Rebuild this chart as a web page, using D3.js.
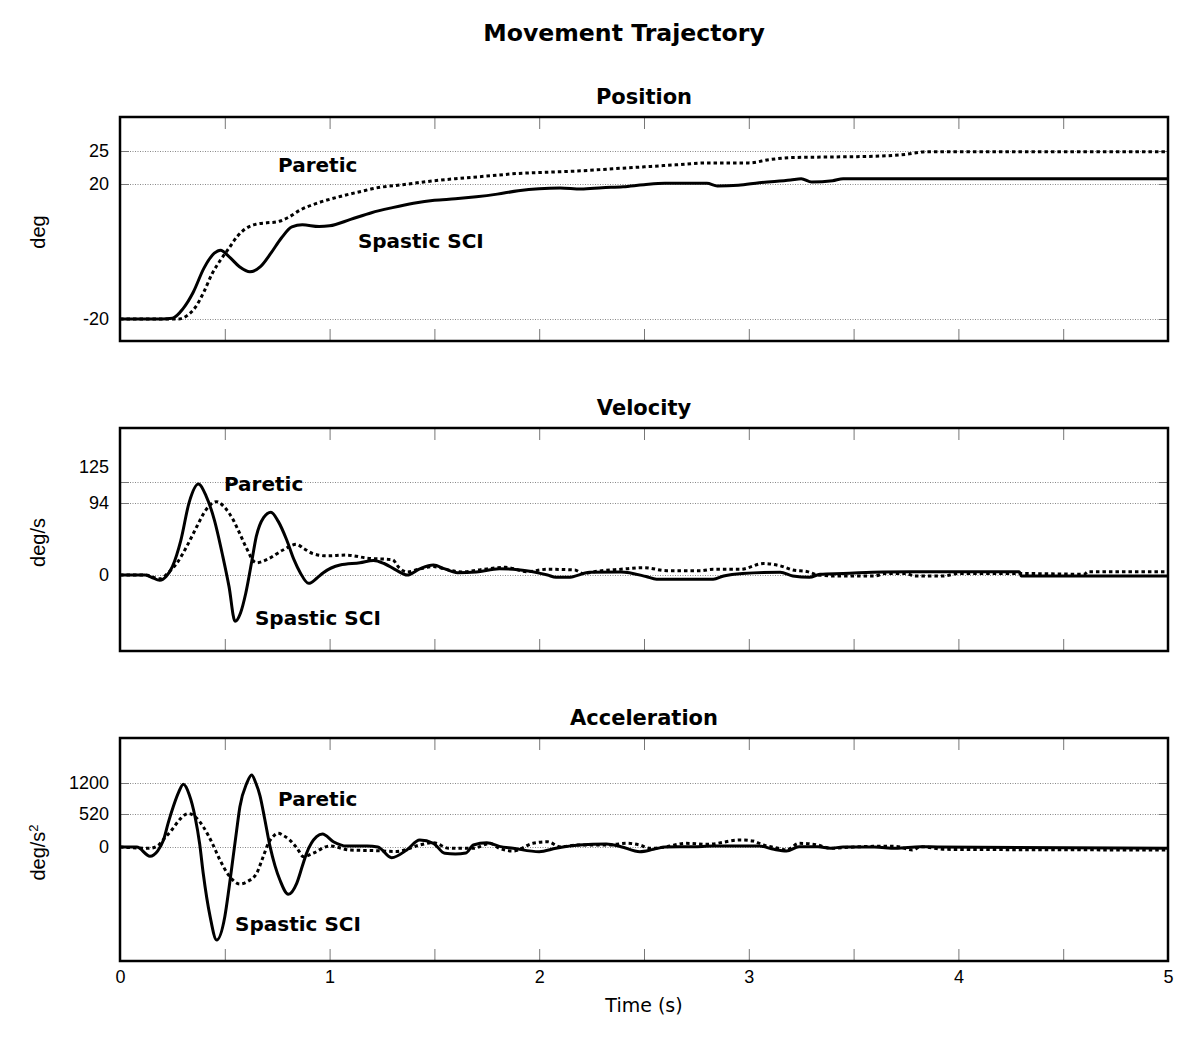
<!DOCTYPE html>
<html lang="en">
<head>
  <meta charset="UTF-8">
  <title>Movement Trajectory</title>
  <script src="https://d3js.org/d3.v7.min.js"></script>
  <style>
    body { margin: 0; background: #fff; }
    .title { font-family: "DejaVu Sans", Verdana, sans-serif; font-weight: bold; }
    .tick-label { font-family: "Liberation Sans", Arial, sans-serif; font-size: 18px; }
    .grid line { stroke: #888; stroke-width: 1; stroke-dasharray: 1,1.5; }
    .minor line { stroke: #777; stroke-width: 1; }
  </style>
</head>
<body>
  <div id="chart"></div>

  <script>
    // time axis
    const timeTicks = [0, 0.5, 1, 1.5, 2, 2.5, 3, 3.5, 4, 4.5, 5];

    // Position (deg)
    const posSpastic = [
      [0, -20], [0.1, -20], [0.2, -20], [0.25, -19.8], [0.3, -17], [0.35, -12], [0.4, -5],
      [0.45, -0.5], [0.48, 0.4], [0.52, -1.5], [0.57, -4.5], [0.62, -6], [0.67, -4.5],
      [0.72, -0.5], [0.77, 4], [0.82, 7.3], [0.87, 7.9], [0.95, 7.4], [1.0, 7.6], [1.1, 9.5],
      [1.2, 11.5], [1.3, 13], [1.4, 14.3], [1.5, 15.2], [1.6, 15.6], [1.7, 16.2], [1.8, 17],
      [1.9, 18], [2.0, 18.6], [2.1, 18.8], [2.2, 18.5], [2.3, 18.9], [2.4, 19.2], [2.5, 19.8],
      [2.6, 20.1], [2.8, 20.1], [2.85, 19.4], [2.95, 19.6], [3.05, 20.2], [3.2, 20.6],
      [3.25, 20.8], [3.3, 20.3], [3.4, 20.5], [3.45, 20.8], [5.0, 20.8]
    ];
    const posParetic = [
      [0, -20], [0.28, -20], [0.32, -19], [0.36, -16.5], [0.4, -12], [0.44, -6.5], [0.48, -2.5],
      [0.52, 1], [0.56, 4.5], [0.6, 6.8], [0.65, 8.1], [0.7, 8.5], [0.75, 8.8], [0.8, 10],
      [0.86, 12.3], [0.95, 14.5], [1.05, 16.3], [1.15, 17.8], [1.22, 18.8], [1.35, 19.8],
      [1.5, 20.5], [1.6, 20.8], [1.75, 21.2], [1.9, 21.6], [2.05, 21.8], [2.2, 22.0],
      [2.35, 22.3], [2.5, 22.6], [2.65, 22.9], [2.8, 23.2], [3.0, 23.2], [3.1, 23.7],
      [3.2, 24.0], [3.4, 24.1], [3.6, 24.2], [3.75, 24.5], [3.85, 24.9], [5.0, 24.9]
    ];
    const posTicks = [-20, 20, 25];

    // Velocity (deg/s)
    const velSpastic = [
      [0, 0], [0.12, 0], [0.15, -3], [0.19, -7], [0.22, -2], [0.25, 11], [0.29, 45], [0.33, 95],
      [0.374, 122], [0.41, 105], [0.45, 72], [0.49, 25], [0.52, -15], [0.549, -61], [0.575, -50],
      [0.6, -24], [0.63, 20], [0.65, 50], [0.685, 75], [0.72, 82], [0.755, 70], [0.795, 46],
      [0.83, 20], [0.86, 3], [0.9, -11], [0.94, -4], [0.97, 3], [1.05, 13], [1.145, 16],
      [1.21, 19], [1.26, 15], [1.32, 6], [1.37, 0], [1.43, 8], [1.495, 13], [1.55, 8],
      [1.61, 3], [1.7, 4], [1.81, 8], [1.9, 7], [2.04, 0], [2.08, -3], [2.14, -3], [2.24, 3.5],
      [2.39, 4], [2.51, -2], [2.56, -5.6], [2.83, -5.6], [2.88, -1.3], [2.97, 2], [3.15, 3.5],
      [3.21, -1.3], [3.29, -3], [3.34, 1], [3.45, 2], [3.64, 4], [3.77, 4.4], [4.29, 4.4],
      [4.3, -1.3], [5.0, -1.3]
    ];
    const velParetic = [
      [0, 0], [0.12, 0], [0.19, -5], [0.23, 3], [0.27, 15], [0.32, 38], [0.366, 63], [0.41, 85],
      [0.46, 96], [0.5, 88], [0.54, 72], [0.57, 55], [0.6, 37], [0.65, 16], [0.7, 20],
      [0.78, 33], [0.84, 40], [0.88, 34], [0.92, 28], [0.985, 25], [1.08, 26], [1.18, 22],
      [1.3, 20], [1.33, 10], [1.37, 4], [1.43, 8], [1.495, 11], [1.56, 7], [1.63, 4],
      [1.72, 7], [1.84, 10], [1.94, 4.4], [2.04, 7.5], [2.17, 6.5], [2.21, 2], [2.28, 5],
      [2.39, 7.5], [2.5, 9.6], [2.61, 5.6], [2.77, 5.6], [2.83, 7.5], [2.96, 7.5], [3.07, 15],
      [3.15, 12], [3.21, 6.6], [3.28, 4.4], [3.33, 0], [3.42, -1.3], [3.6, -1.3], [3.65, 2],
      [3.75, 2], [3.79, -1.3], [3.93, -1.3], [4.0, 2], [4.29, 2], [4.6, 1], [4.62, 4.4],
      [5.0, 4.4]
    ];
    const velTicks = [0, 94, 125];

    // Acceleration (deg/s^2)
    const accSpastic = [
      [0, 0], [0.08, 0], [0.143, -145], [0.18, -60], [0.207, 105], [0.23, 380], [0.254, 680],
      [0.28, 1000], [0.302, 1171], [0.33, 950], [0.358, 477], [0.38, 50], [0.397, -414],
      [0.43, -1097], [0.461, -1465], [0.5, -1097], [0.52, -650], [0.54, -152], [0.556, 250],
      [0.572, 680], [0.604, 1185], [0.628, 1375], [0.648, 1200], [0.668, 920], [0.69, 450],
      [0.716, 5], [0.74, -300], [0.763, -520], [0.803, -745], [0.843, -572], [0.87, -300],
      [0.89, -100], [0.938, 162], [0.966, 205], [1.018, 83], [1.081, 15], [1.18, 15], [1.23, 0],
      [1.296, -168], [1.368, -47], [1.43, 110], [1.495, 58], [1.55, -100], [1.6, -110],
      [1.65, -95], [1.686, 31], [1.75, 68], [1.81, 10], [1.875, -20], [2.0, -74], [2.08, -20],
      [2.19, 31], [2.32, 47], [2.39, 5], [2.48, -74], [2.545, -37], [2.6, 0], [2.74, 5],
      [2.83, 15], [3.05, 15], [3.12, -37], [3.18, -63], [3.24, 5], [3.33, 5], [3.39, -20],
      [3.45, 0], [3.6, 0], [3.7, -20], [3.82, 5], [3.9, 0], [5.0, -20]
    ];
    const accParetic = [
      [0, 0], [0.14, -20], [0.18, 20], [0.21, 130], [0.247, 268], [0.29, 450], [0.326, 531],
      [0.36, 470], [0.397, 320], [0.44, 60], [0.477, -205], [0.52, -450], [0.572, -583],
      [0.61, -540], [0.652, -414], [0.68, -180], [0.708, 58], [0.735, 180], [0.755, 216],
      [0.78, 180], [0.81, 110], [0.845, -20], [0.875, -152], [0.92, -100], [1.0, 15],
      [1.097, -47], [1.22, -58], [1.32, -70], [1.43, 31], [1.495, 68], [1.57, -20],
      [1.686, -20], [1.765, 58], [1.81, -20], [1.875, -63], [1.97, 58], [2.04, 83], [2.1, 5],
      [2.19, 31], [2.32, 31], [2.42, 58], [2.48, 31], [2.53, -20], [2.6, 0], [2.7, 58],
      [2.8, 42], [2.96, 110], [3.02, 94], [3.07, 31], [3.14, -20], [3.18, -47], [3.24, 58],
      [3.33, 30], [3.39, -20], [3.5, 0], [3.6, 10], [3.7, 10], [3.78, -47], [3.82, 5],
      [3.94, -37], [5.0, -47]
    ];
    const accTicks = [0, 520, 1200];

    const width = 1200;
    const height = 1039;
    const left = 120, right = 1168;

    const svg = d3.select('#chart').append('svg')
      .attr('width', width)
      .attr('height', height);

    const x = d3.scaleLinear().domain([0, 5]).range([left, right]);

    // the original plot's value axes are not linear, so each panel uses a piecewise scale
    const panels = [
      {
        title: 'Position', ylabel: 'deg', top: 117, bottom: 341,
        y: d3.scaleLinear().domain([-26.5, -20, 20, 25, 30.2]).range([341, 319, 184, 151, 117]),
        ticks: posTicks, spastic: posSpastic, paretic: posParetic,
        notes: [['Paretic', 0.754, 21.8], ['Spastic SCI', 1.135, 1.0]]
      },
      {
        title: 'Velocity', ylabel: 'deg/s', top: 428, bottom: 651,
        y: d3.scaleLinear().domain([-100, 0, 94, 125, 193]).range([651, 575, 503, 482, 428]),
        ticks: velTicks, spastic: velSpastic, paretic: velParetic,
        notes: [['Paretic', 0.496, 112], ['Spastic SCI', 0.644, -66]]
      },
      {
        title: 'Acceleration', ylabel: 'deg/s', sup: '2', top: 738, bottom: 961,
        y: d3.scaleLinear().domain([-1795, 0, 520, 1200, 2190]).range([961, 847, 814, 783, 738]),
        ticks: accTicks, spastic: accSpastic, paretic: accParetic,
        notes: [['Paretic', 0.754, 695], ['Spastic SCI', 0.549, -1323]],
        timeLabels: true
      }
    ];

    svg.append('text')
      .attr('class', 'title')
      .attr('x', 624).attr('y', 41)
      .attr('text-anchor', 'middle')
      .attr('font-size', 23.6)
      .text('Movement Trajectory');

    panels.forEach(p => {
      const g = svg.append('g');
      const y = p.y;

      g.append('text')
        .attr('class', 'title')
        .attr('x', (left + right) / 2).attr('y', p.top - 13)
        .attr('text-anchor', 'middle')
        .attr('font-size', 21)
        .text(p.title);

      // dotted gridlines at the labelled values
      g.append('g')
        .attr('class', 'grid')
        .attr('transform', `translate(${left},0)`)
        .call(d3.axisLeft(y).tickValues(p.ticks).tickSize(-(right - left)).tickFormat(''))
        .call(a => a.select('.domain').remove());

      // short ticks on both sides
      g.append('g').attr('class', 'minor')
        .attr('transform', `translate(${left},0)`)
        .call(d3.axisLeft(y).tickValues(p.ticks).tickSize(-9).tickFormat(''))
        .call(a => a.select('.domain').remove());
      g.append('g').attr('class', 'minor')
        .attr('transform', `translate(${right},0)`)
        .call(d3.axisRight(y).tickValues(p.ticks).tickSize(-9).tickFormat(''))
        .call(a => a.select('.domain').remove());

      // time ticks, top and bottom, pointing inwards
      g.append('g').attr('class', 'minor')
        .attr('transform', `translate(0,${p.top})`)
        .call(d3.axisTop(x).tickValues(timeTicks.slice(1, -1)).tickSize(-12).tickFormat(''))
        .call(a => a.select('.domain').remove());
      const bottomAxis = g.append('g').attr('class', 'minor')
        .attr('transform', `translate(0,${p.bottom})`)
        .call(d3.axisBottom(x).tickValues(timeTicks).tickSize(-12).tickPadding(9)
          .tickFormat(d => (p.timeLabels && Number.isInteger(d)) ? d : ''))
        .call(a => a.select('.domain').remove());
      bottomAxis.selectAll('text')
        .attr('class', 'tick-label')
        .attr('fill', '#000');

      // value labels, upper one pushed up if two sit too close
      let prevY = null;
      p.ticks.forEach(v => {
        let ty = y(v);
        if (prevY !== null && prevY - ty < 25) ty = prevY - 36;
        prevY = y(v);
        g.append('text')
          .attr('class', 'tick-label')
          .attr('x', 109).attr('y', ty)
          .attr('dy', '0.35em')
          .attr('text-anchor', 'end')
          .text(v);
      });

      // y axis title
      const yt = g.append('text')
        .attr('transform', `translate(38,${(p.top + p.bottom) / 2 + 3}) rotate(-90)`)
        .attr('text-anchor', 'middle')
        .attr('dy', '0.35em')
        .attr('font-family', '"Liberation Sans", Arial, sans-serif')
        .attr('font-size', 20)
        .text(p.ylabel);
      if (p.sup) {
        yt.append('tspan').attr('baseline-shift', 'super').attr('font-size', 13).text(p.sup);
      }

      const line = d3.line()
        .x(d => x(d[0]))
        .y(d => y(d[1]))
        .curve(d3.curveMonotoneX);

      g.append('path')
        .datum(p.paretic)
        .attr('d', line)
        .attr('fill', 'none')
        .attr('stroke', '#000')
        .attr('stroke-width', 3)
        .attr('stroke-dasharray', '3.5,3');

      g.append('path')
        .datum(p.spastic)
        .attr('d', line)
        .attr('fill', 'none')
        .attr('stroke', '#000')
        .attr('stroke-width', 3);

      p.notes.forEach(n => {
        g.append('text')
          .attr('class', 'title')
          .attr('x', x(n[1])).attr('y', y(n[2]))
          .attr('font-size', 20)
          .text(n[0]);
      });

      // frame
      g.append('rect')
        .attr('x', left).attr('y', p.top)
        .attr('width', right - left).attr('height', p.bottom - p.top)
        .attr('fill', 'none')
        .attr('stroke', '#000')
        .attr('stroke-width', 2.5);
    });

    svg.append('text')
      .attr('x', (left + right) / 2).attr('y', 1012)
      .attr('text-anchor', 'middle')
      .attr('font-family', '"DejaVu Sans", Verdana, sans-serif')
      .attr('font-size', 19)
      .text('Time (s)');
  </script>
</body>
</html>
